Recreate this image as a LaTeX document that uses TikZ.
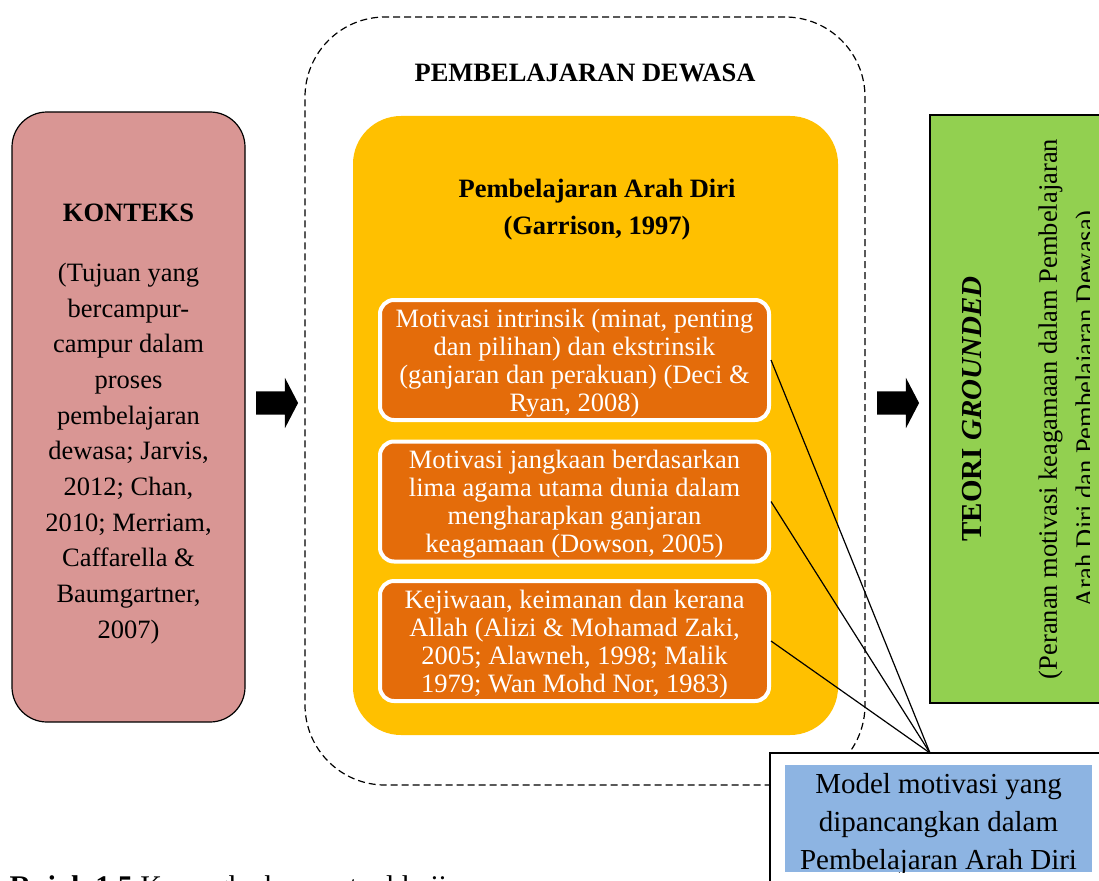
\documentclass[tikz,border=0pt]{standalone}
\usepackage{fontspec}
\setmainfont{Liberation Serif}
\usetikzlibrary{shapes.arrows}
\definecolor{merahjambu}{RGB}{217,150,148}
\definecolor{kuning}{RGB}{255,192,0}
\definecolor{jingga}{RGB}{228,108,10}
\definecolor{hijau}{RGB}{146,208,80}
\definecolor{biru}{RGB}{141,180,226}
\begin{document}
\begin{tikzpicture}[x=1pt,y=-1pt,
  kotak/.style={draw,line width=1.2pt,inner sep=0pt},
  motif/.style={draw=white,line width=4pt,fill=jingga,rounded corners=14pt,
    minimum width=389pt,minimum height=120pt,align=center,text=white,
    font=\fontsize{26.5}{28}\selectfont,inner sep=0pt,text depth=0pt},
  anak/.style={single arrow,fill=black,minimum height=42pt,minimum width=50pt,
    text height=23pt,text depth=0pt,single arrow head extend=13.5pt,
    single arrow tip angle=125,inner sep=0pt}]
\useasboundingbox (0,0) rectangle (1099,880);
\clip (0,0) rectangle (1099,880);
% konteks
\node[kotak,fill=merahjambu,rounded corners=35pt,minimum width=233pt,minimum height=610pt] (konteks) at (128.5,417) {};
\node[align=center,font=\fontsize{26.5}{35.7}\selectfont] (konteksteks) at (128.5,424)
  {\textbf{KONTEKS}\\[24pt](Tujuan yang\\bercampur-\\campur dalam\\proses\\pembelajaran\\
   dewasa; Jarvis,\\2012; Chan,\\2010; Merriam,\\Caffarella \&\\Baumgartner,\\2007)};
% pembelajaran dewasa
\node[draw,dashed,line width=1.2pt,dash pattern=on 7pt off 4pt,rounded corners=80pt,
  minimum width=560pt,minimum height=768pt] (dewasa) at (585,401) {};
\node[font=\bfseries\fontsize{26.5}{28}\selectfont] (judul) at (585,73) {PEMBELAJARAN DEWASA};
\node[fill=kuning,rounded corners=48pt,minimum width=485pt,minimum height=619pt] (arahdiri) at (595.5,425.5) {};
\node[font=\bfseries\fontsize{26.5}{37}\selectfont,align=center] (garrison) at (597,210)
  {Pembelajaran Arah Diri\\(Garrison, 1997)};
\node[motif] (m1) at (574.5,360) {Motivasi intrinsik (minat, penting\\dan pilihan) dan ekstrinsik\\
  (ganjaran dan perakuan) (Deci \&\\Ryan, 2008)};
\node[motif] (m2) at (574.5,501.5) {Motivasi jangkaan berdasarkan\\lima agama utama dunia dalam\\
  mengharapkan ganjaran\\keagamaan (Dowson, 2005)};
\node[motif] (m3) at (574.5,641) {Kejiwaan, keimanan dan kerana\\Allah (Alizi \& Mohamad Zaki,\\
  2005; Alawneh, 1998; Malik\\1979; Wan Mohd Nor, 1983)};
% anak panah
\node[anak] (anak1) at (274,403) {};
\node[anak] (anak2) at (895,403) {};
% teori grounded
\node[kotak,fill=hijau,rotate=90,minimum width=588pt,minimum height=200pt] (teori) at (1030,409) {};
\begin{scope}
\clip (930,115) rectangle (1089,703);
\node[rotate=90,align=center,font=\fontsize{26.5}{37}\selectfont] (teoriteks) at (1031,409)
  {{\bfseries\fontsize{29}{30}\selectfont TEORI \textit{GROUNDED}}\\[38pt]
   (Peranan motivasi keagamaan dalam Pembelajaran\\Arah Diri dan Pembelajaran Dewasa)};
\end{scope}
% model
\coordinate (temu) at (930,753);
\foreach \m in {m1,m2,m3}
  \draw[line width=1.2pt] (\m.east) -- (temu);
\node[kotak,fill=white,minimum width=340pt,minimum height=160pt] (model) at (940,833) {};
\node[fill=biru,minimum width=307pt,minimum height=107pt,inner sep=0pt] (ringkas) at (938.5,818.5) {};
\begin{scope}
\clip (ringkas.north west) rectangle (ringkas.south east);
\node[align=center,font=\fontsize{29}{38}\selectfont] (modelteks) at (938.5,824.5)
  {Model motivasi yang\\dipancangkan dalam\\Pembelajaran Arah Diri};
\end{scope}
\node[anchor=base west,font=\fontsize{30}{32}\selectfont] (rajah) at (6,896)
  {\textbf{Rajah 1.5} Kerangka konseptual kajian};
\end{tikzpicture}
\end{document}
